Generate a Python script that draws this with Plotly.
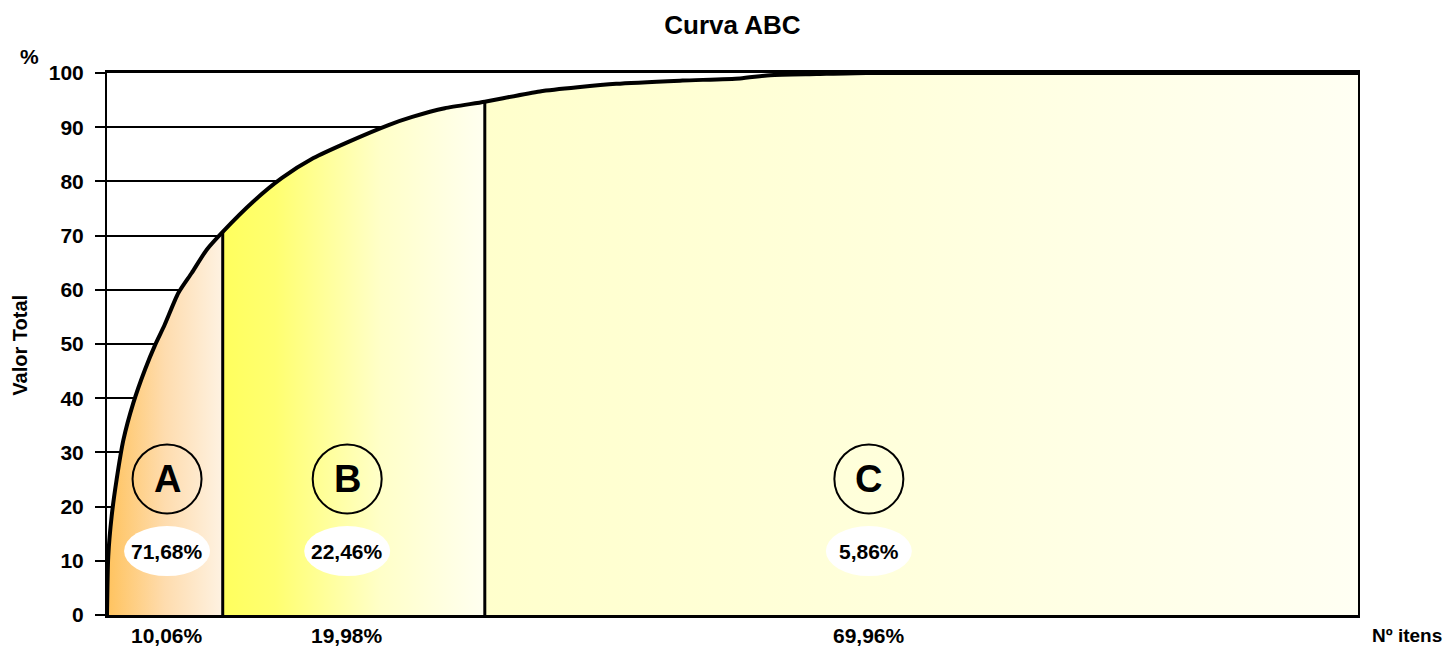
import plotly.graph_objects as go

# Cumulative ABC curve: % of items vs cumulative % of value
items_pct = [0, 0.1, 0.37, 0.77, 1.31, 2.1, 3.04, 3.84, 4.6, 5.7, 6.77, 7.97, 9.25,
             11.7, 13.96, 16.5, 19.3, 22.5, 24.4, 27.0, 30.2,
             34.6, 40.7, 46.0, 50.6, 53.0, 56.7, 60.7, 100]
value_pct = [0, 10.8, 18.2, 25.0, 32.3, 39.1, 45.3, 49.8, 53.5, 59.4, 63.1, 67.4, 70.7,
             76.3, 80.6, 84.3, 87.3, 90.4, 91.9, 93.5, 94.7,
             96.6, 98.0, 98.6, 99.0, 99.6, 99.8, 100, 100]

class_names = ["A", "B", "C"]
class_value_share = ["71,68%", "22,46%", "5,86%"]
class_item_share = ["10,06%", "19,98%", "69,96%"]
class_limits = [9.25, 30.2]          # x of the A|B and B|C boundaries
y_ticks = [0, 10, 20, 30, 40, 50, 60, 70, 80, 90, 100]

FONT = "Liberation Sans, Arial, sans-serif"

# layout-only constants
label_x = [4.8, 19.2, 60.9]
circle_y = 25.1
ellipse_y = 11.8

gradients = [
    [[0, "#FFC35E"], [0.5, "#FEDCAE"], [1, "#FEF2E2"]],
    [[0, "#FFFF5E"], [0.2, "#FFFF70"], [0.6, "#FFFFC8"], [1, "#FFFFF0"]],
    [[0, "#FFFFCC"], [0.5, "#FFFFDD"], [1, "#FFFFF3"]],
]

bounds = [0] + class_limits + [100]
fig = go.Figure()
for i in range(3):
    lo, hi = bounds[i], bounds[i + 1]
    xs = [x for x in items_pct if lo <= x <= hi]
    ys = [y for x, y in zip(items_pct, value_pct) if lo <= x <= hi]
    fig.add_trace(go.Scatter(
        x=xs, y=ys, mode="lines",
        line=dict(width=0, color="rgba(0,0,0,0)", shape="spline", smoothing=0.6),
        fill="tozeroy",
        fillgradient=dict(type="horizontal", colorscale=gradients[i]),
        hoverinfo="skip", showlegend=False))

# division lines
for xl in class_limits:
    yl = value_pct[items_pct.index(xl)]
    fig.add_trace(go.Scatter(x=[xl, xl], y=[0, yl], mode="lines",
                             line=dict(color="black", width=3),
                             hoverinfo="skip", showlegend=False))

# curve
fig.add_trace(go.Scatter(x=items_pct, y=value_pct, mode="lines",
                         line=dict(color="black", width=4, shape="spline", smoothing=0.6),
                         showlegend=False))

shapes = []
annotations = []
bold = lambda s: dict(family=FONT, size=s, color="black", weight="bold")
for i in range(3):
    shapes.append(dict(type="circle", xref="x", yref="y",
                       xsizemode="pixel", ysizemode="pixel",
                       xanchor=label_x[i], yanchor=circle_y,
                       x0=-34.5, x1=34.5, y0=-34.5, y1=34.5,
                       line=dict(color="black", width=2), layer="above"))
    shapes.append(dict(type="circle", xref="x", yref="y",
                       xsizemode="pixel", ysizemode="pixel",
                       xanchor=label_x[i], yanchor=ellipse_y,
                       x0=-43, x1=43, y0=-25, y1=25,
                       fillcolor="white", line=dict(width=0), layer="above"))
    annotations.append(dict(x=label_x[i], y=circle_y, xref="x", yref="y",
                            text=class_names[i], showarrow=False, font=bold(38)))
    annotations.append(dict(x=label_x[i], y=ellipse_y, xref="x", yref="y",
                            text=class_value_share[i], showarrow=False, font=bold(21)))
    annotations.append(dict(x=label_x[i] / 100, y=-0.038, xref="paper", yref="paper",
                            xanchor="center", yanchor="middle",
                            text=class_item_share[i], showarrow=False, font=bold(21)))

annotations += [
    dict(x=-0.062, y=1.031, xref="paper", yref="paper", text="%", showarrow=False,
         xanchor="center", yanchor="middle", font=bold(21)),
    dict(x=-0.0695, y=0.497, xref="paper", yref="paper", text="Valor Total",
         xanchor="center", yanchor="middle",
         showarrow=False, textangle=-90, font=bold(20)),
    dict(x=1.0685, y=-0.038, xref="paper", yref="paper", text="Nº itens",
         xanchor="right", yanchor="middle", showarrow=False, font=bold(19)),
]

# page body adds an 8px offset; size/margins compensate
fig.update_layout(
    width=1445, height=641,
    margin=dict(l=99, r=95, t=65, b=34),
    paper_bgcolor="white", plot_bgcolor="white",
    title=dict(text="Curva ABC", x=0.5, xref="paper", y=1 - 17 / 641, yref="container",
               xanchor="center", yanchor="middle", font=bold(26)),
    xaxis=dict(range=[0, 100], showgrid=False, zeroline=False, showticklabels=False,
               ticks="", showline=True, linecolor="black", linewidth=3, mirror=True),
    yaxis=dict(range=[0, 100], tickvals=y_ticks, showgrid=True, gridcolor="black",
               gridwidth=1.5, zeroline=False, ticks="outside", ticklen=10,
               tickwidth=1.5, tickcolor="black", ticklabelstandoff=7,
               tickfont=bold(21),
               showline=True, linecolor="black", linewidth=2, mirror=True),
    shapes=shapes, annotations=annotations,
)

fig.write_html("out.html")
